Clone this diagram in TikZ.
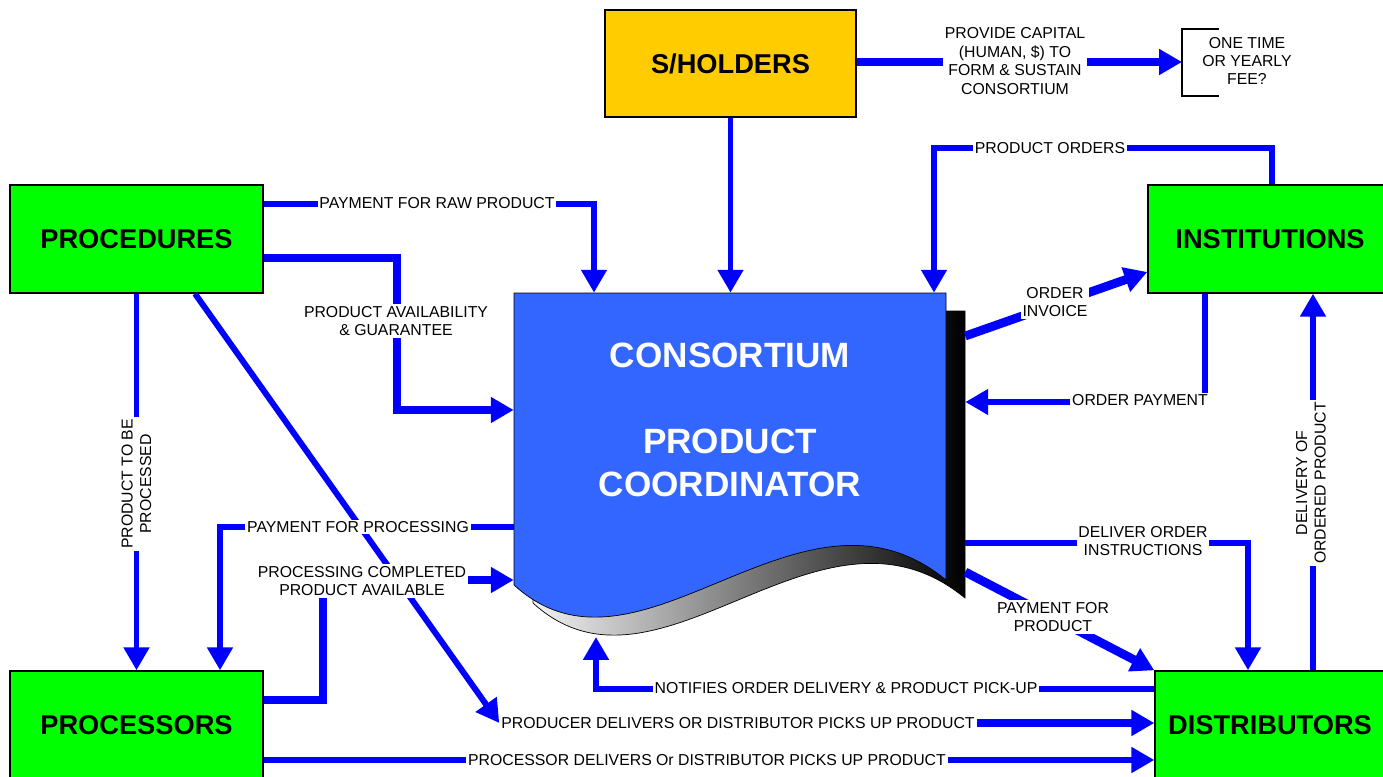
\documentclass[tikz,border=0pt]{standalone}
\usepackage{fontspec}
\setmainfont{Liberation Sans}
\usetikzlibrary{arrows.meta}
\definecolor{flowblue}{HTML}{0000FF}
\definecolor{boxgreen}{HTML}{00FF00}
\definecolor{holdgold}{HTML}{FFCC00}
\definecolor{docblue}{HTML}{3366FF}
\begin{document}
\begin{tikzpicture}[x=0.02cm,y=-0.02cm,
	box/.style={draw=black,line width=0.8pt,minimum height=2.16cm,font=\fontsize{15.5}{18}\selectfont\bfseries},
	flow/.style={draw=flowblue,line width=3.4pt,-{Triangle[length=13pt,width=14pt]}},
	heavy/.style={flow,line width=5pt},
	lbl/.style={fill=white,inner sep=1pt,align=center,font=\fontsize{9}{10.5}\selectfont}]
	\useasboundingbox (0,0) rectangle (1383,777);
	
	% boxes
	\node[box,fill=holdgold,minimum width=5.02cm,minimum height=2.14cm] (shold) at (730.5,63.5) {S/HOLDERS};
	\node[box,fill=boxgreen,minimum width=5.06cm] (proced) at (136.5,239) {PROCEDURES};
	\node[box,fill=boxgreen,minimum width=4.88cm] (instit) at (1270,239) {INSTITUTIONS};
	\node[box,fill=boxgreen,minimum width=5.06cm] (procs) at (136.5,725) {PROCESSORS};
	\node[box,fill=boxgreen,minimum width=4.6cm] (distr) at (1270,725) {DISTRIBUTORS};
	
	% consortium document with its shadow
	\path[left color=gray!10,right color=black,draw=black,thin,shift={(19,18)}]
		(514,293) -- (946,293) -- (946,580) .. controls (800,460) and (640,700) .. (514,585) -- cycle;
	\path[fill=docblue,draw=black,thin]
		(514,293) -- (946,293) -- (946,580) .. controls (800,460) and (640,700) .. (514,585) -- cycle;
	\node[minimum width=9.02cm,minimum height=6.2cm,inner sep=0pt] (doc) at (739.5,448) {};
	\node[text=white,align=center,font=\fontsize{20}{24.5}\selectfont\bfseries] (doctext) at (730,420)
		{CONSORTIUM\\[24.5pt]PRODUCT\\COORDINATOR};
	
	\coordinate (brk) at (1182,62);
	\coordinate (docbot) at (596,637);
	\node[lbl] (lprod) at (738,723) {PRODUCER DELIVERS OR DISTRIBUTOR PICKS UP PRODUCT};
	
	% connectors
	\draw[heavy] (shold.east |- 0,62) -- (brk);
	\draw[flow] (shold.south) -- (shold.south |- doc.north);
	\draw[flow] (proced.east |- 0,204) -| (594,0 |- doc.north);
	\draw[heavy] (proced.east |- 0,258) -| (397,410) -- (doc.west |- 0,410);
	\draw[flow] (proced.south) -- (procs.north);
	\draw[flow] (proced.south -| 195,0) -- (lprod.west);
	\draw[heavy] (lprod.east) -- (distr.west |- lprod.east);
	\draw[flow] (doc.west |- 0,527) -| (procs.north -| 220,0);
	\draw[heavy] (procs.east |- 0,700) -| (323,580) -- (doc.west |- 0,580);
	\draw[flow] (procs.east |- 0,760) -- (distr.west |- 0,760);
	\draw[flow] (distr.west |- 0,689) -| (docbot);
	\draw[heavy] (doc.east |- 0,336) -- (instit.west |- 0,272);
	\draw[flow] (instit.south -| 1205,0) |- (doc.east |- 0,402);
	\draw[flow] (instit.north -| 1272,0) |- (934,148) -- (934,0 |- doc.north);
	\draw[flow] (distr.north -| 1313,0) -- (instit.south -| 1313,0);
	\draw[flow] (doc.east |- 0,543) -| (distr.north -| 1248,0);
	\draw[heavy] (doc.east |- 0,572) -- (distr.north west);
	
	% fee bracket
	\draw[black,line width=1pt] (1219,29) -| (brk) |- (1219,96);
	\node[align=center,font=\fontsize{9}{10.5}\selectfont] (lfee) at (1247,61) {ONE TIME\\OR YEARLY\\FEE?};
	
	% labels
	\node[lbl] (lcap) at (1015,61) {PROVIDE CAPITAL\\(HUMAN, \$) TO\\FORM \& SUSTAIN\\CONSORTIUM};
	\node[lbl] (lraw) at (437,203) {PAYMENT FOR RAW PRODUCT};
	\node[lbl] (lavail) at (396,321) {PRODUCT AVAILABILITY\\\& GUARANTEE};
	\node[lbl,rotate=90] (lproc) at (136.5,484) {PRODUCT TO BE\\PROCESSED};
	\node[lbl] (lpayproc) at (358,527) {PAYMENT FOR PROCESSING};
	\node[lbl] (ldone) at (362,581) {PROCESSING COMPLETED\\PRODUCT AVAILABLE};
	\node[lbl] (lpdel) at (707,760) {PROCESSOR DELIVERS Or DISTRIBUTOR PICKS UP PRODUCT};
	\node[lbl] (lnote) at (846,688) {NOTIFIES ORDER DELIVERY \& PRODUCT PICK-UP};
	\node[lbl] (linv) at (1055,302) {ORDER\\INVOICE};
	\node[lbl] (lpay) at (1140,400) {ORDER PAYMENT};
	\node[lbl] (lorders) at (1050,148) {PRODUCT ORDERS};
	\node[lbl,rotate=90] (ldeliv) at (1311,483) {DELIVERY OF\\ORDERED PRODUCT};
	\node[lbl] (linstr) at (1143,541) {DELIVER ORDER\\INSTRUCTIONS};
	\node[lbl] (lpayprod) at (1053,617) {PAYMENT FOR\\PRODUCT};
\end{tikzpicture}
\end{document}
